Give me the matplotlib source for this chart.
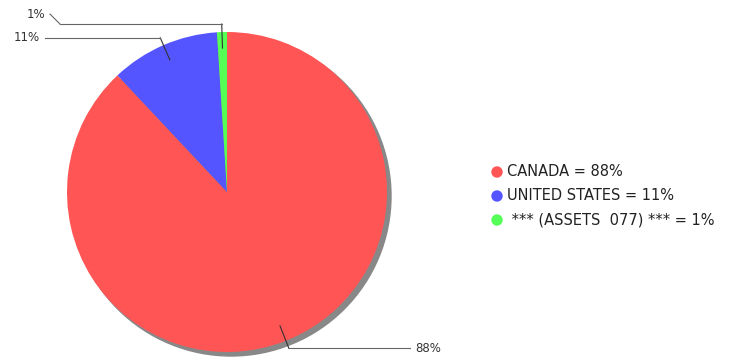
import numpy as np
import matplotlib.pyplot as plt
from matplotlib.patches import Circle

countries = ["CANADA", "UNITED STATES", " *** (ASSETS  077) ***"]
shares = [88, 11, 1]
colors = ["#ff5555", "#5555ff", "#55ff55"]

W, H = 741, 358
fig = plt.figure(figsize=(W / 100, H / 100), dpi=100)
ax = fig.add_axes([0, 0, 1, 1])

cx, cy, r = 227, H - 192, 160

# shadow
ax.add_patch(Circle((cx + 4, cy - 4), r, color="#888888", zorder=1))
wedges, _ = ax.pie(shares, colors=colors, startangle=90, counterclock=False,
                   radius=r, center=(cx, cy), frame=True,
                   wedgeprops=dict(linewidth=0, zorder=2))
ax.set_xlim(0, W)
ax.set_ylim(0, H)
ax.set_aspect("equal")
ax.axis("off")

# leader lines and labels
line_col = "#666666"
label_ends = [(410, None), (45, None), (60, "diag")]
for w, s, (xend, kind) in zip(wedges, shares, label_ends):
    ang = np.deg2rad((w.theta1 + w.theta2) / 2)
    x0, y0 = cx + 0.9 * r * np.cos(ang), cy + 0.9 * r * np.sin(ang)
    x1, y1 = cx + 1.05 * r * np.cos(ang), cy + 1.05 * r * np.sin(ang)
    ax.plot([x0, x1], [y0, y1], color="#333333", lw=0.8, zorder=3)
    ax.plot([x1, xend], [y1, y1], color=line_col, lw=0.8, zorder=3)
    if kind == "diag":
        ax.plot([xend, xend - 10], [y1, y1 + 10], color=line_col, lw=0.8, zorder=3)
        ax.text(xend - 15, y1 + 10, f"{s}%", ha="right", va="center",
                fontsize=8.5, color="#333333")
    elif xend > cx:
        ax.text(xend + 5, y1, f"{s}%", ha="left", va="center",
                fontsize=8.5, color="#333333")
    else:
        ax.text(xend - 5, y1, f"{s}%", ha="right", va="center",
                fontsize=8.5, color="#333333")

# legend
for i, (c, s, col) in enumerate(zip(countries, shares, colors)):
    y = H - (172 + 24 * i)
    ax.add_patch(Circle((497, y), 5, color=col, zorder=3))
    ax.text(507, y, f"{c} = {s}%", ha="left", va="center",
            fontsize=10.5, color="#222222")

fig.savefig("out.png", dpi=100)
